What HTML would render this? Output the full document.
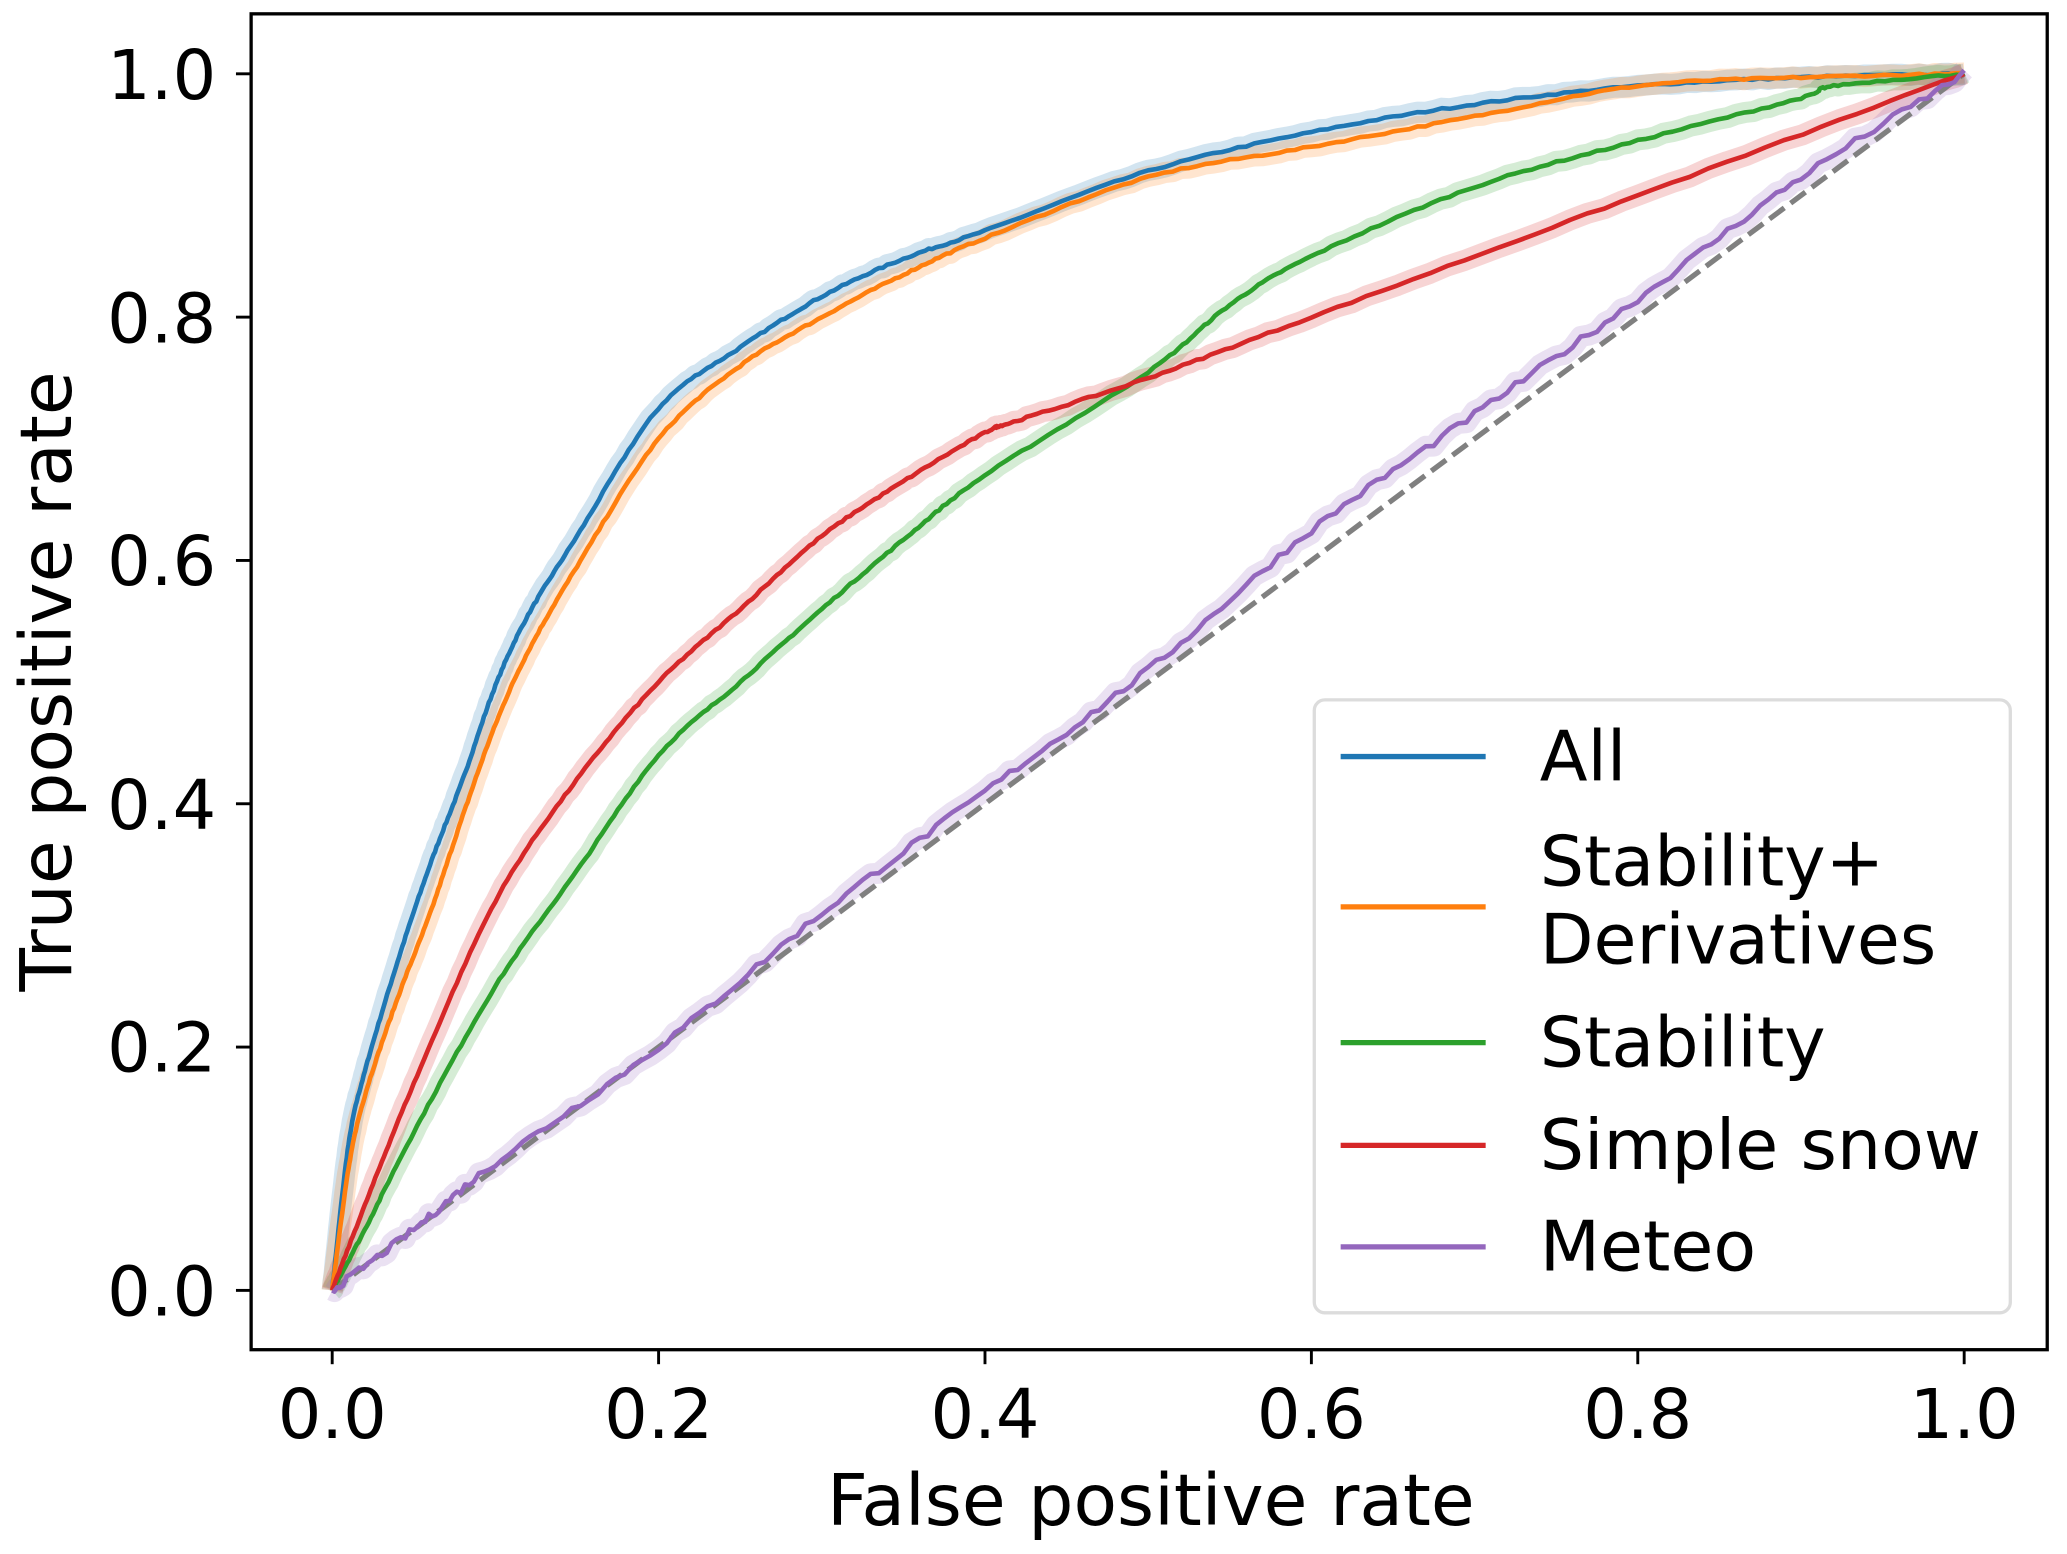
<!DOCTYPE html>
<html><head><meta charset="utf-8"><style>html,body{margin:0;padding:0;background:#fff}svg{display:block}</style></head>
<body>
<svg id="s" width="2067" height="1554" viewBox="0 0 1568 1179" preserveAspectRatio="none" xmlns="http://www.w3.org/2000/svg" font-family="DejaVu Sans, Liberation Sans, sans-serif">
<rect width="1568" height="1179" fill="#fff"/>
<g id="bands"></g>
<line x1="252" y1="979" x2="1490" y2="56" stroke="#808080" stroke-width="4" stroke-dasharray="14,6"/>
<g id="lines"></g>
<rect x="190.5" y="10.5" width="1362.5" height="1013.5" fill="none" stroke="#000" stroke-width="2.5"/>
<g stroke="#000" stroke-width="2.2">
<line x1="252" y1="1024" x2="252" y2="1035"/><line x1="499.6" y1="1024" x2="499.6" y2="1035"/><line x1="747.2" y1="1024" x2="747.2" y2="1035"/><line x1="994.8" y1="1024" x2="994.8" y2="1035"/><line x1="1242.4" y1="1024" x2="1242.4" y2="1035"/><line x1="1490" y1="1024" x2="1490" y2="1035"/>
<line x1="179" y1="979" x2="190" y2="979"/><line x1="179" y1="794.4" x2="190" y2="794.4"/><line x1="179" y1="609.8" x2="190" y2="609.8"/><line x1="179" y1="425.2" x2="190" y2="425.2"/><line x1="179" y1="240.6" x2="190" y2="240.6"/><line x1="179" y1="56" x2="190" y2="56"/>
</g>
<g font-size="52" text-anchor="middle" fill="#000">
<text x="252" y="1091">0.0</text><text x="499.6" y="1091">0.2</text><text x="747.2" y="1091">0.4</text><text x="994.8" y="1091">0.6</text><text x="1242.4" y="1091">0.8</text><text x="1490" y="1091">1.0</text>
</g>
<g font-size="52" text-anchor="end" fill="#000">
<text x="164" y="998">0.0</text><text x="164" y="813">0.2</text><text x="164" y="629">0.4</text><text x="164" y="444">0.6</text><text x="164" y="260">0.8</text><text x="164" y="75">1.0</text>
</g>
<text x="873" y="1157" font-size="54" text-anchor="middle">False positive rate</text>
<text transform="translate(54,517) rotate(-90)" font-size="54" text-anchor="middle">True positive rate</text>
<rect x="997" y="531" width="528" height="465" rx="8" fill="#fff" fill-opacity="0.8" stroke="#dcdcdc" stroke-width="2.5"/>
<g stroke-width="4">
<line x1="1017" y1="574" x2="1127" y2="574" stroke="#1f77b4"/>
<line x1="1017" y1="688" x2="1127" y2="688" stroke="#ff7f0e"/>
<line x1="1017" y1="791" x2="1127" y2="791" stroke="#2ca02c"/>
<line x1="1017" y1="869" x2="1127" y2="869" stroke="#d62728"/>
<line x1="1017" y1="946" x2="1127" y2="946" stroke="#9467bd"/>
</g>
<g font-size="53" fill="#000">
<text x="1168" y="592">All</text>
<text x="1168" y="672">Stability+</text>
<text x="1168" y="731">Derivatives</text>
<text x="1168" y="809">Stability</text>
<text x="1168" y="887">Simple snow</text>
<text x="1168" y="964">Meteo</text>
</g>
</svg>
<script>
var series=[
["#1f77b4",[[0,0],[.01,.12],[.02,.18],[.04,.27],[.06,.35],[.08,.42],[.1,.497],[.12,.555],[.15,.62],[.2,.725],[.25,.775],[.3,.817],[.35,.848],[.4,.871],[.5,.92],[.6,.952],[.7,.975],[.8,.99],[.9,.997],[1,1]]],
["#ff7f0e",[[0,0],[.01,.1],[.02,.16],[.04,.24],[.06,.31],[.08,.39],[.1,.465],[.12,.525],[.15,.595],[.2,.7],[.25,.76],[.3,.8],[.35,.835],[.4,.865],[.5,.915],[.6,.94],[.7,.965],[.8,.99],[.9,.997],[1,1]]],
["#2ca02c",[[0,0],[.02,.05],[.05,.13],[.1,.25],[.15,.345],[.2,.44],[.25,.5],[.3,.56],[.35,.617],[.4,.67],[.5,.755],[.55,.81],[.6,.85],[.7,.907],[.8,.945],[.9,.98],[.92,.99],[1,1]]],
["#d62728",[[0,0],[.02,.07],[.05,.17],[.1,.32],[.15,.42],[.2,.5],[.25,.56],[.3,.62],[.35,.665],[.4,.705],[.42,.715],[.5,.75],[.6,.8],[.8,.9],[1,1]]],
["#9467bd",[[0,0],[.05,.05],[.1,.105],[.2,.2],[.3,.31],[.4,.41],[.5,.51],[.6,.625],[.7,.72],[.8,.815],[.9,.915],[1,1]]]
];
function X(x){return 252+1238*x}function Y(y){return 979-923*y}
var seed=7;function rnd(){seed=(seed*16807)%2147483647;return seed/2147483647-0.5;}
function path(p,jit){var d="M"+X(p[0][0])+","+Y(p[0][1]);
for(var i=0;i<p.length-1;i++){var p0=p[Math.max(0,i-1)],p1=p[i],p2=p[i+1],p3=p[Math.min(p.length-1,i+2)];
for(var t=0.05;t<=1.001;t+=0.05){var t2=t*t,t3=t2*t;
var x=0.5*((2*p1[0])+(-p0[0]+p2[0])*t+(2*p0[0]-5*p1[0]+4*p2[0]-p3[0])*t2+(-p0[0]+3*p1[0]-3*p2[0]+p3[0])*t3);
var y=0.5*((2*p1[1])+(-p0[1]+p2[1])*t+(2*p0[1]-5*p1[1]+4*p2[1]-p3[1])*t2+(-p0[1]+3*p1[1]-3*p2[1]+p3[1])*t3);
var j=jit?rnd()*jit:0;
d+=" L"+X(x).toFixed(1)+","+Y(y+j).toFixed(1);}}return d;}
var ns="http://www.w3.org/2000/svg",B=document.getElementById("bands"),L=document.getElementById("lines");
series.forEach(function(s,k){var d=path(s[1],k==4?0.006:0.0015);
var b=document.createElementNS(ns,"path");b.setAttribute("d",d);b.setAttribute("fill","none");b.setAttribute("stroke",s[0]);b.setAttribute("stroke-opacity","0.2");b.setAttribute("stroke-width","16");b.setAttribute("stroke-linejoin","round");B.appendChild(b);
var l=document.createElementNS(ns,"path");l.setAttribute("d",d);l.setAttribute("fill","none");l.setAttribute("stroke",s[0]);l.setAttribute("stroke-width","3.5");l.setAttribute("stroke-linejoin","round");L.appendChild(l);});
</script>
</body></html>
